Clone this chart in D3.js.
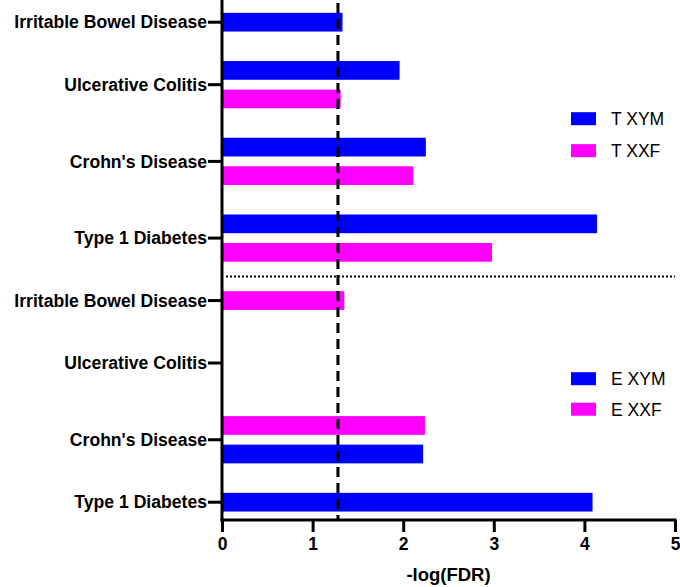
<!DOCTYPE html>
<html>
<head>
<meta charset="utf-8">
<script src="https://cdn.jsdelivr.net/npm/d3@7"></script>
<style>
  html, body { margin: 0; padding: 0; background: #fff; }
  svg { display: block; font-family: "Liberation Sans", Arial, Helvetica, sans-serif; }
</style>
</head>
<body>
<svg id="chart" width="680" height="587"></svg>
<script>
// ---- data ----
const categories = ["Irritable Bowel Disease", "Ulcerative Colitis", "Crohn's Disease", "Type 1 Diabetes"];
// Upper panel (T), series listed top-to-bottom inside each category
const tSeries = ["T XYM", "T XXF"];
const tXYM = [1.33, 1.96, 2.25, 4.14];
const tXXF = [null, 1.31, 2.11, 2.98];
// Lower panel (E), series listed top-to-bottom inside each category
const eSeries = ["E XXF", "E XYM"];
const eXXF = [1.35, 0, 2.24, null];
const eXYM = [null, 0, 2.22, 4.09];
const eLegend = ["E XYM", "E XXF"];
const xTicks = [0, 1, 2, 3, 4, 5];
const threshold = 1.28;
const xTitle = "-log(FDR)";

// ---- layout ----
const svg = d3.select("#chart");
const x0 = 222, x1 = 675, axisY = 520;
const colorOf = name => name.endsWith("XYM") ? "#0000FF" : "#FF00FF";

const groups = [
  { series: tSeries, values: [tXYM, tXXF] },
  { series: eSeries, values: [eXXF, eXYM] }
];

// build slots in abstract units
const gapUnits = 0.69;
let pos = 0, first = true;
const bars = [], catTicks = [], groupEnds = [];
groups.forEach((g, gi) => {
  categories.forEach((cat, ci) => {
    const slots = [];
    g.series.forEach((s, si) => {
      const v = g.values[si][ci];
      if (v !== null) slots.push({ s, v });
    });
    if (!first) pos += 1 + gapUnits;
    const start = pos;
    slots.forEach((sl, k) => {
      if (k > 0) pos += 1;
      bars.push({ cat, series: sl.s, value: sl.v, pos });
    });
    first = false;
    catTicks.push({ cat, pos: (start + pos) / 2 });
  });
  groupEnds.push(pos);
});
const lastPos = pos;

const x = d3.scaleLinear().domain([0, 5]).range([x0, x1]);
const y = d3.scaleLinear().domain([0, lastPos]).range([22.2, 502.2]);
const pitch = y(1) - y(0);
const barH = pitch * 0.656;

// bars
svg.append("g").selectAll("rect")
  .data(bars)
  .join("rect")
  .attr("x", x(0))
  .attr("y", d => y(d.pos) - barH / 2)
  .attr("width", d => x(d.value) - x(0))
  .attr("height", barH)
  .attr("fill", d => colorOf(d.series));

// dotted separator
const sepPos = (groupEnds[0] + groupEnds[0] + 1 + gapUnits) / 2;
svg.append("line")
  .attr("x1", x(0) + 4).attr("x2", x1)
  .attr("y1", y(sepPos)).attr("y2", y(sepPos))
  .attr("stroke", "#000").attr("stroke-width", 2)
  .attr("stroke-dasharray", "2,2");

// threshold dashed line
svg.append("line")
  .attr("x1", x(threshold)).attr("x2", x(threshold))
  .attr("y1", 3).attr("y2", axisY)
  .attr("stroke", "#000").attr("stroke-width", 3)
  .attr("stroke-dasharray", "10,6");

// y axis
const yAxisG = svg.append("g");
yAxisG.append("line")
  .attr("x1", x0).attr("x2", x0).attr("y1", 0).attr("y2", axisY + 1.5)
  .attr("stroke", "#000").attr("stroke-width", 3);
const yt = yAxisG.selectAll("g.t").data(catTicks).join("g").attr("class", "t")
  .attr("transform", d => `translate(0,${y(d.pos)})`);
yt.append("line").attr("x1", x0 - 14).attr("x2", x0).attr("stroke", "#000").attr("stroke-width", 3);
yt.append("text")
  .attr("x", x0 - 15).attr("dy", "0.35em")
  .attr("text-anchor", "end")
  .attr("font-size", 17.6).attr("font-weight", "bold").attr("fill", "#000")
  .text(d => d.cat);

// x axis
const xAxis = d3.axisBottom(x).tickValues(xTicks).tickSize(12).tickPadding(6).tickFormat(d3.format("d"));
const xg = svg.append("g").attr("transform", `translate(0,${axisY})`).call(xAxis);
xg.select(".domain").attr("stroke", "#000").attr("stroke-width", 3)
  .attr("d", `M${x0 - 1.5},0H${x1 + 1.5}`);
xg.selectAll(".tick line").attr("stroke", "#000").attr("stroke-width", 3);
xg.selectAll(".tick text").attr("font-size", 17.5).attr("font-weight", "bold")
  .attr("fill", "#000").attr("font-family", "Liberation Sans, Arial, sans-serif");

svg.append("text")
  .attr("x", (x0 + x1) / 2).attr("y", 581)
  .attr("text-anchor", "middle")
  .attr("font-size", 18.5).attr("font-weight", "bold")
  .text(xTitle);

// legends
function legend(items, top, step) {
  const g = svg.append("g");
  items.forEach((name, i) => {
    const cy = top + i * step;
    g.append("rect").attr("x", 571).attr("y", cy - 6.5).attr("width", 25).attr("height", 13)
      .attr("fill", colorOf(name));
    g.append("text").attr("x", 611).attr("y", cy).attr("dy", "0.36em")
      .attr("font-size", 17.5).attr("fill", "#000").text(name);
  });
}
legend(tSeries, 118.7, 32);
legend(eLegend, 378.7, 30.5);
</script>
</body>
</html>
